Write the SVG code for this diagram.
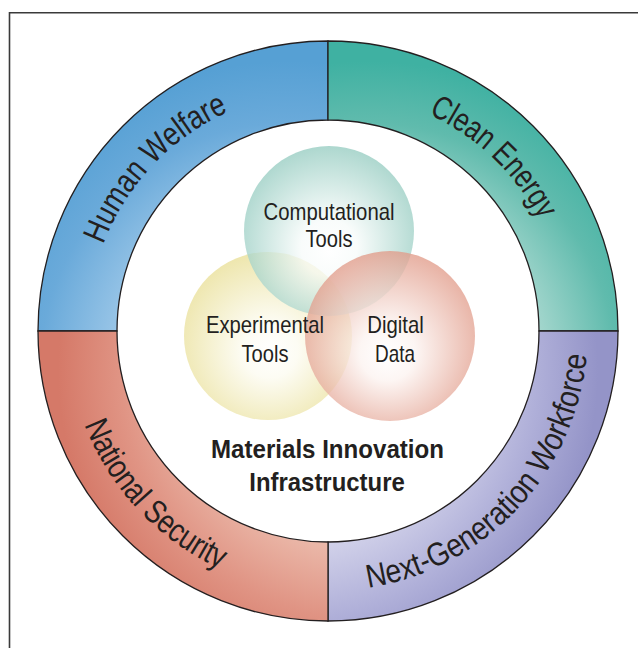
<svg xmlns="http://www.w3.org/2000/svg" width="638" height="648" viewBox="0 0 638 648">
  <style>
    .band { stroke: #231f20; stroke-width: 1.3; stroke-linejoin: miter; }
    .arc { font-family: "Liberation Sans Narrow", "Liberation Sans", Arial, sans-serif; font-size: 33px; fill: #231f20; }
    .lbl { font-family: "Liberation Sans Narrow", "Liberation Sans", Arial, sans-serif; font-size: 24px; fill: #231f20; text-anchor: middle; }
    .title { font-family: "Liberation Sans Narrow", "Liberation Sans", Arial, sans-serif; font-size: 26px; font-weight: bold; fill: #231f20; text-anchor: middle; }
    .venn { opacity: 0.78; }
  </style>
  <defs>
    <radialGradient id="gBlue" gradientUnits="userSpaceOnUse" cx="288" cy="371" r="310">
      <stop offset="0.55" stop-color="#9cc7e8"/>
      <stop offset="0.8" stop-color="#6aaada"/>
      <stop offset="1" stop-color="#56a0d4"/>
    </radialGradient>
    <radialGradient id="gTeal" gradientUnits="userSpaceOnUse" cx="368" cy="371" r="310">
      <stop offset="0.55" stop-color="#a8d8cf"/>
      <stop offset="0.8" stop-color="#60bbad"/>
      <stop offset="1" stop-color="#3fb1a2"/>
    </radialGradient>
    <radialGradient id="gRed" gradientUnits="userSpaceOnUse" cx="368" cy="371" r="310">
      <stop offset="0.55" stop-color="#ecbcad"/>
      <stop offset="0.8" stop-color="#e09484"/>
      <stop offset="1" stop-color="#d57968"/>
    </radialGradient>
    <radialGradient id="gPurple" gradientUnits="userSpaceOnUse" cx="288" cy="371" r="310">
      <stop offset="0.55" stop-color="#d4d4eb"/>
      <stop offset="0.8" stop-color="#b0b0d9"/>
      <stop offset="1" stop-color="#9494c8"/>
    </radialGradient>
    <radialGradient id="cTeal" cx="0.5" cy="0.55" r="0.55" fx="0.5" fy="0.62">
      <stop offset="0" stop-color="#ffffff"/>
      <stop offset="0.3" stop-color="#f7fbfa"/>
      <stop offset="1" stop-color="#96ccc1"/>
    </radialGradient>
    <radialGradient id="cYellow" cx="0.5" cy="0.55" r="0.55" fx="0.52" fy="0.6">
      <stop offset="0" stop-color="#ffffff"/>
      <stop offset="0.3" stop-color="#fcfbf0"/>
      <stop offset="1" stop-color="#e9df96"/>
    </radialGradient>
    <radialGradient id="cSalmon" cx="0.5" cy="0.55" r="0.55" fx="0.48" fy="0.62">
      <stop offset="0" stop-color="#ffffff"/>
      <stop offset="0.3" stop-color="#fcf3f0"/>
      <stop offset="1" stop-color="#e19b89"/>
    </radialGradient>
    <path id="pHuman" d="M 97.2 400.3 A 241 241 0 0 1 383.4 96.5"/>
    <path id="pClean" d="M 260.5 101.7 A 239 239 0 0 1 560.3 387.2"/>
    <path id="pNational" d="M 78 256 A 262 262 0 0 0 388 586"/>
    <path id="pNext" d="M 268.8 584.2 A 260 260 0 0 0 576.9 256.1"/>
  </defs>

  <rect width="638" height="648" fill="#ffffff"/>
  <path d="M 9.5 648 L 9.5 12.8 L 638 12.8" fill="none" stroke="#3a3a3a" stroke-width="1.6"/>

  <g id="human-welfare">
    <path class="band" fill="url(#gBlue)" d="M 38 331 A 290 290 0 0 1 328 41 L 328 120 A 211 211 0 0 0 117 331 Z"/>
    <text class="arc"><textPath href="#pHuman" startOffset="50%" text-anchor="middle" textLength="187" lengthAdjust="spacingAndGlyphs">Human Welfare</textPath></text>
  </g>
  <g id="clean-energy">
    <path class="band" fill="url(#gTeal)" d="M 328 41 A 290 290 0 0 1 618 331 L 539 331 A 211 211 0 0 0 328 120 Z"/>
    <text class="arc"><textPath href="#pClean" startOffset="50%" text-anchor="middle" textLength="156" lengthAdjust="spacingAndGlyphs">Clean Energy</textPath></text>
  </g>
  <g id="next-generation-workforce">
    <path class="band" fill="url(#gPurple)" d="M 618 331 A 290 290 0 0 1 328 621 L 328 542 A 211 211 0 0 0 539 331 Z"/>
    <text class="arc"><textPath href="#pNext" startOffset="50%" text-anchor="middle" textLength="344" lengthAdjust="spacingAndGlyphs">Next-Generation Workforce</textPath></text>
  </g>
  <g id="national-security">
    <path class="band" fill="url(#gRed)" d="M 328 621 A 290 290 0 0 1 38 331 L 117 331 A 211 211 0 0 0 328 542 Z"/>
    <text class="arc"><textPath href="#pNational" startOffset="50%" text-anchor="middle" textLength="203" lengthAdjust="spacingAndGlyphs">National Security</textPath></text>
  </g>

  <g id="experimental-tools">
    <circle class="venn" cx="268" cy="336" r="84" fill="url(#cYellow)"/>
  </g>
  <g id="computational-tools">
    <circle class="venn" cx="329" cy="231" r="85" fill="url(#cTeal)"/>
  </g>
  <g id="digital-data">
    <circle class="venn" cx="390" cy="336" r="85" fill="url(#cSalmon)"/>
  </g>

  <g id="labels">
    <text class="lbl" x="329" y="220" textLength="131" lengthAdjust="spacingAndGlyphs">Computational</text>
    <text class="lbl" x="329" y="246.5" textLength="47" lengthAdjust="spacingAndGlyphs">Tools</text>
    <text class="lbl" x="265" y="333" textLength="118" lengthAdjust="spacingAndGlyphs">Experimental</text>
    <text class="lbl" x="265" y="361.5" textLength="47" lengthAdjust="spacingAndGlyphs">Tools</text>
    <text class="lbl" x="395.5" y="333" textLength="56.5" lengthAdjust="spacingAndGlyphs">Digital</text>
    <text class="lbl" x="395" y="361.5" textLength="40" lengthAdjust="spacingAndGlyphs">Data</text>
  </g>

  <g id="materials-innovation-infrastructure">
    <text class="title" x="327.5" y="457.5" textLength="233" lengthAdjust="spacingAndGlyphs">Materials Innovation</text>
    <text class="title" x="327" y="490.5" textLength="155.5" lengthAdjust="spacingAndGlyphs">Infrastructure</text>
  </g>
</svg>
